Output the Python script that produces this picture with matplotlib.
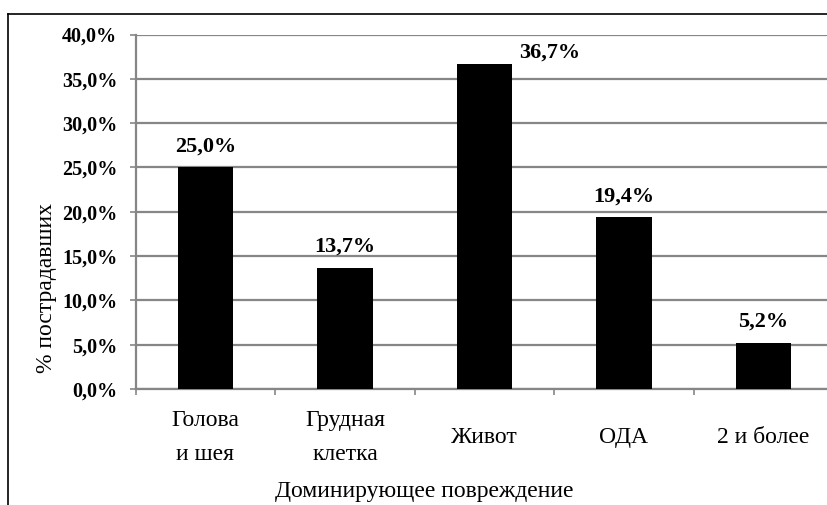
import matplotlib.pyplot as plt
from matplotlib.lines import Line2D
from matplotlib.ticker import FixedLocator
import matplotlib.transforms as mtrans

############################# Data #############################

categories = ['Голова\nи шея', 'Грудная\nклетка', 'Живот', 'ОДА', '2 и более']
values = [25.0, 13.7, 36.7, 19.4, 5.2]
labels = ['25,0%', '13,7%', '36,7%', '19,4%', '5,2%']
yticks = [0, 5, 10, 15, 20, 25, 30, 35, 40]
ytick_labels = ['0,0%', '5,0%', '10,0%', '15,0%', '20,0%', '25,0%', '30,0%', '35,0%', '40,0%']

############################# Plot #############################

plt.rcParams['font.family'] = 'serif'
plt.rcParams['font.serif'] = ['Liberation Serif', 'DejaVu Serif']

W, H = 828, 505
fig = plt.figure(figsize=(W / 100, H / 100), dpi=100)
ax = fig.add_axes([135.75 / W, 1 - 389 / H, 697.5 / W, 354.5 / H])

grid_col = '#868686'
x = list(range(len(values)))
ax.set_axisbelow(True)
ax.yaxis.grid(True, color=grid_col, linewidth=1.6)
ax.bar(x, values, width=0.4, color='black', zorder=3)

ax.set_xlim(-0.5, len(values) - 0.5)
ax.set_ylim(0, 40)
ax.set_yticks(yticks)
ax.set_yticklabels(ytick_labels, fontweight='bold', fontsize=14.5)
ax.tick_params(axis='y', length=4.3, width=1.2, color=grid_col, pad=9)

# category boundaries as ticks, names placed by hand
ax.xaxis.set_major_locator(FixedLocator([i - 0.5 for i in range(len(values) + 1)]))
ax.set_xticklabels([])
ax.tick_params(axis='x', length=4.3, width=1.2, color=grid_col)

for s in ['top', 'right']:
    ax.spines[s].set_visible(False)
for s in ['left', 'bottom']:
    ax.spines[s].set_color(grid_col)
    ax.spines[s].set_linewidth(1.6)

trans = mtrans.blended_transform_factory(ax.transData, ax.transAxes)
for i, name in enumerate(categories):
    ax.annotate(name, xy=(i, 0), xycoords=trans, xytext=(0, -35),
                textcoords='offset points', ha='center', va='center',
                fontsize=17, linespacing=1.85)

# value labels; the tallest one sits beside its bar
for i, (v, lab) in enumerate(zip(values, labels)):
    if v == max(values):
        off = (47, 8)
    else:
        off = (0, 15)
    ax.annotate(lab, xy=(i, v), xytext=off, textcoords='offset points',
                ha='center', va='center', fontsize=16, fontweight='bold')

fig.text(47 / W, 1 - 288 / H, '% пострадавших', rotation=90,
         ha='center', va='center', fontsize=17)
fig.text(424 / W, 1 - 492 / H, 'Доминирующее повреждение',
         ha='center', va='center', fontsize=17)

# outer chart frame (cropped at right and bottom)
fig.add_artist(Line2D([8 / W, 1], [1 - 14 / H, 1 - 14 / H], color='black', linewidth=1.2))
fig.add_artist(Line2D([8 / W, 8 / W], [1 - 14 / H, 0], color='black', linewidth=1.2))

fig.savefig('out.png', dpi=100)
